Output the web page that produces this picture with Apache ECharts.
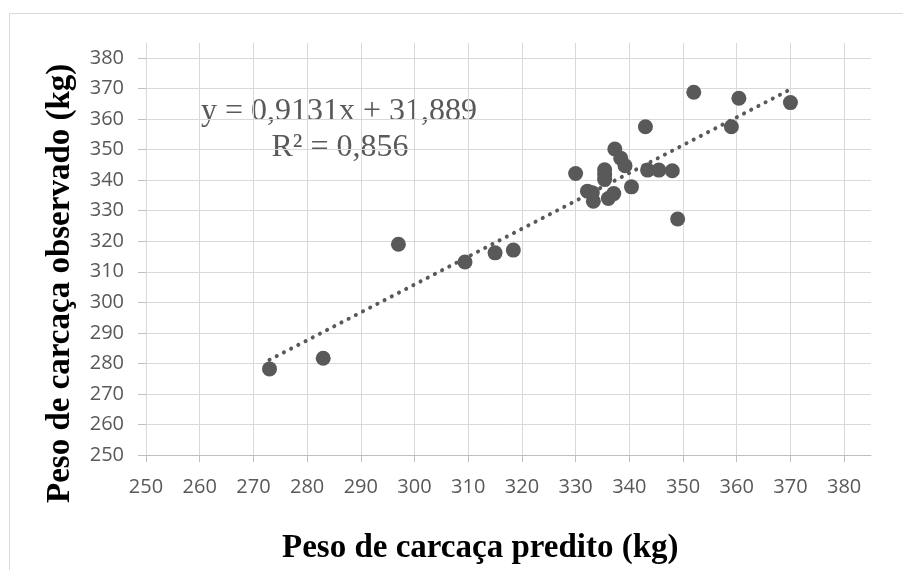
<!DOCTYPE html>
<html>
<head>
<meta charset="utf-8">
<script src="https://cdn.jsdelivr.net/npm/echarts@6/dist/echarts.min.js"></script>
<style>
  html, body { margin: 0; padding: 0; background: #fff; }
  #chart { width: 903px; height: 570px; }
</style>
</head>
<body>
<div id="chart"></div>
<script>
// valores
const predito = [273, 283, 297, 309.4, 315, 318.4, 330, 332.2, 333.1, 333.3, 335.4, 335.4, 335.4, 336.1, 337.1, 337.3, 338.4, 339.2, 340.4, 343, 343.4, 345.5, 348, 349, 352, 359, 360.4, 370];
const observado = [278.2, 281.7, 319, 313.2, 316.2, 317.1, 342.2, 336.4, 335.9, 333.1, 343.4, 341.8, 340.2, 334, 335.6, 350.2, 347.2, 344.7, 337.8, 357.5, 343.3, 343.3, 343.1, 327.3, 368.8, 357.5, 366.8, 365.4];
const ticksX = [250, 380];
const ticksY = [250, 380];
const tickStep = 10;

// linha de tendência (equação mostrada no gráfico)
const slope = 0.9131;
const intercept = 31.889;
const trendX = [273, 370];
const equationText = 'y = 0,9131x + 31,889';
const r2Text = 'R² = 0,856';

const grey = '#595959';
const gridColor = '#d9d9d9';
const axisColor = '#bfbfbf';

const chart = echarts.init(document.getElementById('chart'));

const points = predito.map((x, i) => [x, observado[i]]);
const trend = trendX.map(x => [x, slope * x + intercept]);

const option = {
  animation: false,
  backgroundColor: '#fff',
  grid: [
    { left: 146, top: 58, width: 725, height: 397 },
    { left: 146, top: 43, width: 698.15, height: 412 }
  ],
  xAxis: [
    {
      gridIndex: 0,
      type: 'value',
      min: 250,
      max: 385,
      axisLabel: { show: false },
      axisTick: { show: false },
      splitLine: { show: false },
      axisLine: { lineStyle: { color: axisColor, width: 1 } }
    },
    {
      gridIndex: 1,
      type: 'value',
      min: ticksX[0],
      max: ticksX[1],
      interval: tickStep,
      axisLine: { show: false },
      axisTick: { show: true, length: 7, lineStyle: { color: axisColor } },
      splitLine: { show: true, lineStyle: { color: gridColor, width: 1 } },
      axisLabel: {
        color: grey,
        fontFamily: 'Open Sans',
        fontSize: 20,
        margin: 22
      }
    }
  ],
  yAxis: [
    {
      gridIndex: 0,
      type: 'value',
      min: ticksY[0],
      max: ticksY[1],
      interval: tickStep,
      axisLine: { show: false },
      axisTick: { show: true, length: 8, lineStyle: { color: axisColor } },
      splitLine: { show: true, lineStyle: { color: gridColor, width: 1 } },
      axisLabel: {
        color: grey,
        fontFamily: 'Open Sans',
        fontSize: 20,
        margin: 22
      }
    },
    {
      gridIndex: 1,
      type: 'value',
      min: 0,
      max: 1,
      show: false
    }
  ],
  graphic: [
    {
      type: 'rect',
      silent: true,
      shape: { x: 9.5, y: 13.5, width: 1000, height: 1000 },
      style: { fill: 'none', stroke: gridColor, lineWidth: 1 },
      z: -10
    },
    {
      type: 'text',
      x: 339,
      y: 112,
      style: {
        text: equationText,
        font: '32px "Liberation Serif"',
        fill: grey,
        textAlign: 'center',
        textVerticalAlign: 'middle'
      }
    },
    {
      type: 'text',
      x: 340,
      y: 148,
      style: {
        text: r2Text,
        font: '32px "Liberation Serif"',
        fill: grey,
        textAlign: 'center',
        textVerticalAlign: 'middle'
      }
    },
    {
      type: 'text',
      x: 282,
      y: 548,
      style: {
        text: 'Peso de carcaça predito (kg)',
        font: 'bold 33px "Liberation Serif"',
        fill: '#000',
        textAlign: 'left',
        textVerticalAlign: 'middle'
      }
    },
    {
      type: 'text',
      x: 60,
      y: 503,
      rotation: Math.PI / 2,
      style: {
        text: 'Peso de carcaça observado (kg)',
        font: 'bold 33px "Liberation Serif"',
        fill: '#000',
        textAlign: 'left',
        textVerticalAlign: 'middle'
      }
    }
  ],
  series: [
    {
      type: 'scatter',
      xAxisIndex: 0,
      yAxisIndex: 0,
      symbolSize: 15,
      itemStyle: { color: grey, opacity: 1 },
      data: points,
      z: 2
    },
    {
      type: 'line',
      xAxisIndex: 0,
      yAxisIndex: 0,
      showSymbol: false,
      symbol: 'none',
      lineStyle: { color: grey, width: 4, type: [0.1, 8], cap: 'round' },
      data: trend,
      z: 3
    }
  ]
};

chart.setOption(option);
</script>
</body>
</html>
